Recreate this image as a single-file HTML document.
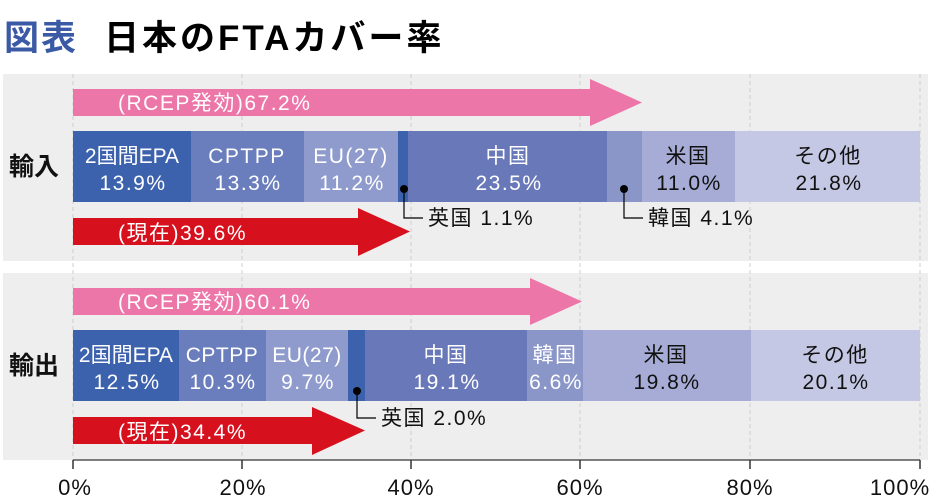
<!DOCTYPE html>
<html><head><meta charset="utf-8"><style>
body{margin:0;background:#fff}
svg{display:block;font-family:"Liberation Sans","Noto Sans CJK JP",sans-serif}
</style></head><body>
<svg width="933" height="504" viewBox="0 0 933 504" xmlns="http://www.w3.org/2000/svg">
<text x="4" y="50" font-size="35" font-weight="bold" fill="#3b5aa5" letter-spacing="2">図表</text>
<text x="104" y="50" font-size="35" font-weight="bold" fill="#000" letter-spacing="3">日本のFTAカバー率</text>
<rect x="3" y="74" width="925" height="187" fill="#eeeeee"/>
<rect x="3" y="273" width="925" height="187" fill="#eeeeee"/>
<g stroke="#cfcfcf" stroke-width="1" stroke-dasharray="4,3">
<line x1="73" y1="74" x2="73" y2="460"/><line x1="242" y1="74" x2="242" y2="460"/><line x1="411" y1="74" x2="411" y2="460"/><line x1="580" y1="74" x2="580" y2="460"/><line x1="750" y1="74" x2="750" y2="460"/><line x1="920" y1="74" x2="920" y2="460"/>
</g>
<line x1="73" y1="460" x2="920" y2="460" stroke="#555" stroke-width="1.5"/>
<g stroke="#333" stroke-width="1.5">
<line x1="73" y1="460" x2="73" y2="469"/><line x1="242" y1="460" x2="242" y2="469"/><line x1="411" y1="460" x2="411" y2="469"/><line x1="580" y1="460" x2="580" y2="469"/><line x1="750" y1="460" x2="750" y2="469"/><line x1="920" y1="460" x2="920" y2="469"/>
</g>
<g font-size="22" fill="#111" text-anchor="middle" letter-spacing="1">
<text x="75" y="495">0%</text><text x="243" y="495">20%</text><text x="411" y="495">40%</text><text x="580" y="495">60%</text><text x="750" y="495">80%</text><text x="900" y="495">100%</text>
</g>
<g font-size="25" font-weight="bold" fill="#111">
<text x="9" y="175">輸入</text><text x="9" y="374">輸出</text>
</g>
<g font-size="21" letter-spacing="1.5">
<!-- import -->
<polygon points="73,89 590,89 590,79 642,102.5 590,126 590,116 73,116" fill="#ec76a8"/>
<text x="118" y="110" fill="#fff">(RCEP発効)67.2%</text>
<rect x="73" y="131" width="118" height="71" fill="#3d62ad"/>
<rect x="191" y="131" width="113" height="71" fill="#6a7dbd"/>
<rect x="304" y="131" width="94" height="71" fill="#8f9bcc"/>
<rect x="398" y="131" width="10" height="71" fill="#3d62ad"/>
<rect x="408" y="131" width="199" height="71" fill="#6878b8"/>
<rect x="607" y="131" width="35" height="71" fill="#8a95c8"/>
<rect x="642" y="131" width="93" height="71" fill="#a6acd6"/>
<rect x="735" y="131" width="185" height="71" fill="#c5c8e4"/>
<g text-anchor="middle" fill="#fff">
<text x="132" y="163" letter-spacing="0">2国間EPA</text><text x="133" y="190">13.9%</text>
<text x="247" y="163">CPTPP</text><text x="248" y="190">13.3%</text>
<text x="351" y="163">EU(27)</text><text x="352" y="190">11.2%</text>
<text x="508" y="163">中国</text><text x="509" y="190">23.5%</text>
</g>
<g text-anchor="middle" fill="#111">
<text x="688" y="163">米国</text><text x="689" y="190">11.0%</text>
<text x="828" y="163">その他</text><text x="829" y="190">21.8%</text>
</g>
<circle cx="404" cy="189" r="4" fill="#000"/>
<polyline points="404,189 404,218 423,218" fill="none" stroke="#000" stroke-width="1.2"/>
<text x="428" y="225" fill="#111">英国 1.1%</text>
<circle cx="624" cy="189" r="4" fill="#000"/>
<polyline points="624,189 624,218 643,218" fill="none" stroke="#000" stroke-width="1.2"/>
<text x="648" y="225" fill="#111">韓国 4.1%</text>
<polygon points="73,218 358,218 358,208 410,231.5 358,256 358,245 73,245" fill="#d7101d"/>
<text x="118" y="240" fill="#fff">(現在)39.6%</text>
<!-- export -->
<polygon points="73,288 530,288 530,278 582,301.5 530,325 530,315 73,315" fill="#ec76a8"/>
<text x="118" y="309" fill="#fff">(RCEP発効)60.1%</text>
<rect x="73" y="330" width="106" height="71" fill="#3d62ad"/>
<rect x="179" y="330" width="87" height="71" fill="#6a7dbd"/>
<rect x="266" y="330" width="82" height="71" fill="#8f9bcc"/>
<rect x="348" y="330" width="17" height="71" fill="#3d62ad"/>
<rect x="365" y="330" width="162" height="71" fill="#6878b8"/>
<rect x="527" y="330" width="56" height="71" fill="#8a95c8"/>
<rect x="583" y="330" width="168" height="71" fill="#a6acd6"/>
<rect x="751" y="330" width="169" height="71" fill="#c5c8e4"/>
<g text-anchor="middle" fill="#fff">
<text x="126" y="362" letter-spacing="0">2国間EPA</text><text x="127" y="389">12.5%</text>
<text x="222" y="362" letter-spacing="0.5">CPTPP</text><text x="223" y="389">10.3%</text>
<text x="307" y="362" letter-spacing="0.5">EU(27)</text><text x="308" y="389">9.7%</text>
<text x="446" y="362">中国</text><text x="447" y="389">19.1%</text>
<text x="555" y="362">韓国</text><text x="556" y="389">6.6%</text>
</g>
<g text-anchor="middle" fill="#111">
<text x="666" y="362">米国</text><text x="667" y="389">19.8%</text>
<text x="835" y="362">その他</text><text x="836" y="389">20.1%</text>
</g>
<circle cx="357" cy="391" r="4" fill="#000"/>
<polyline points="357,391 357,418 376,418" fill="none" stroke="#000" stroke-width="1.2"/>
<text x="381" y="425" fill="#111">英国 2.0%</text>
<polygon points="73,417 312,417 312,407 365,430.5 312,455 312,444 73,444" fill="#d7101d"/>
<text x="118" y="439" fill="#fff">(現在)34.4%</text>
</g>
</svg>
</body></html>
